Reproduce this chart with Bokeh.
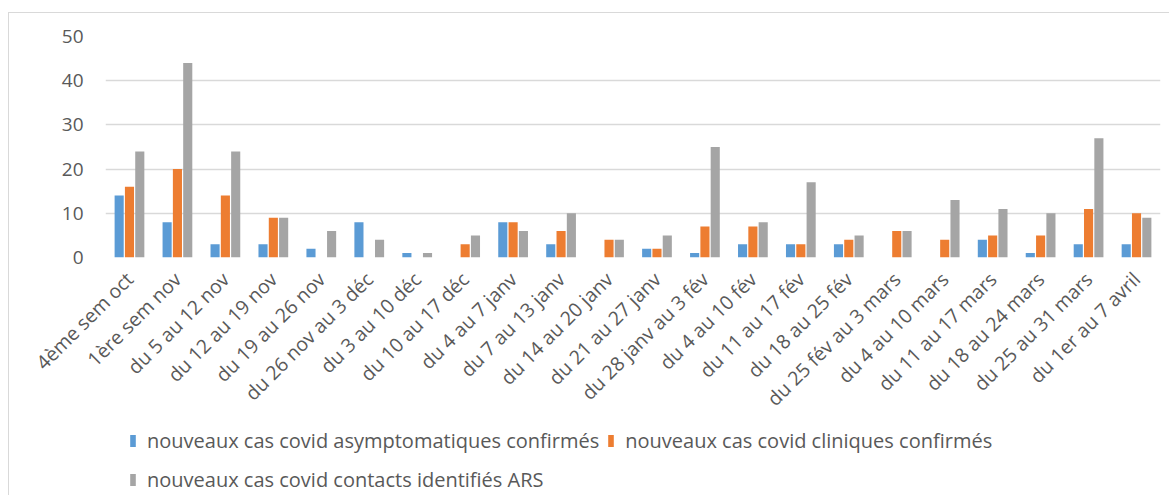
import math
from bokeh.plotting import figure
from bokeh.layouts import column
from bokeh.models import FactorRange, Range1d, ColumnDataSource, Legend, LegendItem, FixedTicker
from bokeh.transform import dodge
from bokeh.embed import file_html
from bokeh.resources import INLINE

categories = ["4ème sem oct", "1ère sem nov", "du 5 au 12 nov", "du 12 au 19 nov",
              "du 19 au 26 nov", "du 26 nov au 3 déc", "du 3 au 10 déc", "du 10 au 17 déc",
              "du 4 au 7 janv", "du 7 au 13 janv", "du 14 au 20 janv", "du 21 au 27 janv",
              "du 28 janv au 3 fév", "du 4 au 10 fév", "du 11 au 17 fév", "du 18 au 25 fév",
              "du 25 fév au 3 mars", "du 4 au 10 mars", "du 11 au 17 mars", "du 18 au 24 mars",
              "du 25 au 31 mars", "du 1er au 7 avril"]
asymptomatiques = [14, 8, 3, 3, 2, 8, 1, 0, 8, 3, 0, 2, 1, 3, 3, 3, 0, 0, 4, 1, 3, 3]
cliniques = [16, 20, 14, 9, 0, 0, 0, 3, 8, 6, 4, 2, 7, 7, 3, 4, 6, 4, 5, 5, 11, 10]
contacts = [24, 44, 24, 9, 6, 4, 1, 5, 6, 10, 4, 5, 25, 8, 17, 5, 6, 13, 11, 10, 27, 9]
series_names = ["nouveaux cas covid asymptomatiques confirmés",
                "nouveaux cas covid cliniques confirmés",
                "nouveaux cas covid contacts identifiés ARS"]
y_ticks = [0, 10, 20, 30, 40, 50]

colors = ["#5B9BD5", "#ED7D31", "#A5A5A5"]
FONT = "Open Sans"
TXT = "#595959"

source = ColumnDataSource(dict(cat=categories, a=asymptomatiques, c=cliniques, k=contacts))
x_range = FactorRange(factors=categories, range_padding=0)

# main chart
p = figure(x_range=x_range, y_range=Range1d(0, 50), width=1160, height=411,
           output_backend="svg", toolbar_location=None,
           min_border_left=96, min_border_right=9, min_border_top=23, min_border_bottom=166)

for col, off, color in zip(["a", "c", "k"], [-0.215, 0.0, 0.215], colors):
    p.vbar(x=dodge("cat", off, range=x_range), top=col, width=0.19,
           source=source, fill_color=color, line_color=None)

p.outline_line_color = None
p.xgrid.grid_line_color = None
p.ygrid.grid_line_color = "#d9d9d9"
p.ygrid.grid_line_width = 1.5

p.yaxis.ticker = FixedTicker(ticks=y_ticks)
p.yaxis.axis_line_color = None
p.yaxis.major_tick_line_color = None
p.yaxis.minor_tick_line_color = None
p.yaxis.major_tick_out = 0
p.yaxis.major_label_standoff = 22
p.yaxis.major_label_text_font = FONT
p.yaxis.major_label_text_font_size = "19px"
p.yaxis.major_label_text_color = TXT

p.xaxis.axis_line_color = None
p.xaxis.major_tick_line_color = None
p.xaxis.minor_tick_line_color = None
p.xaxis.major_tick_out = 0
p.xaxis.major_label_standoff = 18
p.xaxis.major_label_orientation = math.pi / 4
p.xaxis.major_label_text_font = FONT
p.xaxis.major_label_text_font_size = "19.5px"
p.xaxis.major_label_text_color = TXT

# legend strip: same series as zero-width keys (nothing drawn but the legend)
p2 = figure(x_range=x_range, y_range=Range1d(0, 50), width=1160, height=71,
            output_backend="svg", toolbar_location=None,
            x_axis_location=None, y_axis_location=None,
            min_border_left=96, min_border_right=9, min_border_top=0, min_border_bottom=0)
p2.outline_line_color = None
p2.xgrid.grid_line_color = None
p2.ygrid.grid_line_color = None
keys = []
for col, off, color in zip(["a", "c", "k"], [-0.215, 0.0, 0.215], colors):
    keys.append(p2.vbar(x=dodge("cat", off, range=x_range), top=col, width=0,
                        source=source, fill_color=color, line_color=None))

items = [LegendItem(label=n, renderers=[r]) for n, r in zip(series_names, keys)]
legend = Legend(items=[items[0], items[2], items[1]],
                location=(24, 0), ncols=2, padding=0, margin=0, spacing=8, label_height=31,
                border_line_color=None, background_fill_alpha=0,
                glyph_width=7, glyph_height=15, label_standoff=11,
                label_text_font=FONT, label_text_font_size="20px", label_text_color=TXT)
p2.add_layout(legend, "center")

layout = column(p, p2, spacing=0)
layout.styles = {"margin-left": "8px", "margin-top": "12px",
                 "border-top": "1px solid #d9d9d9", "border-left": "1px solid #d9d9d9"}

open("out.html", "w").write(file_html(layout, INLINE))
